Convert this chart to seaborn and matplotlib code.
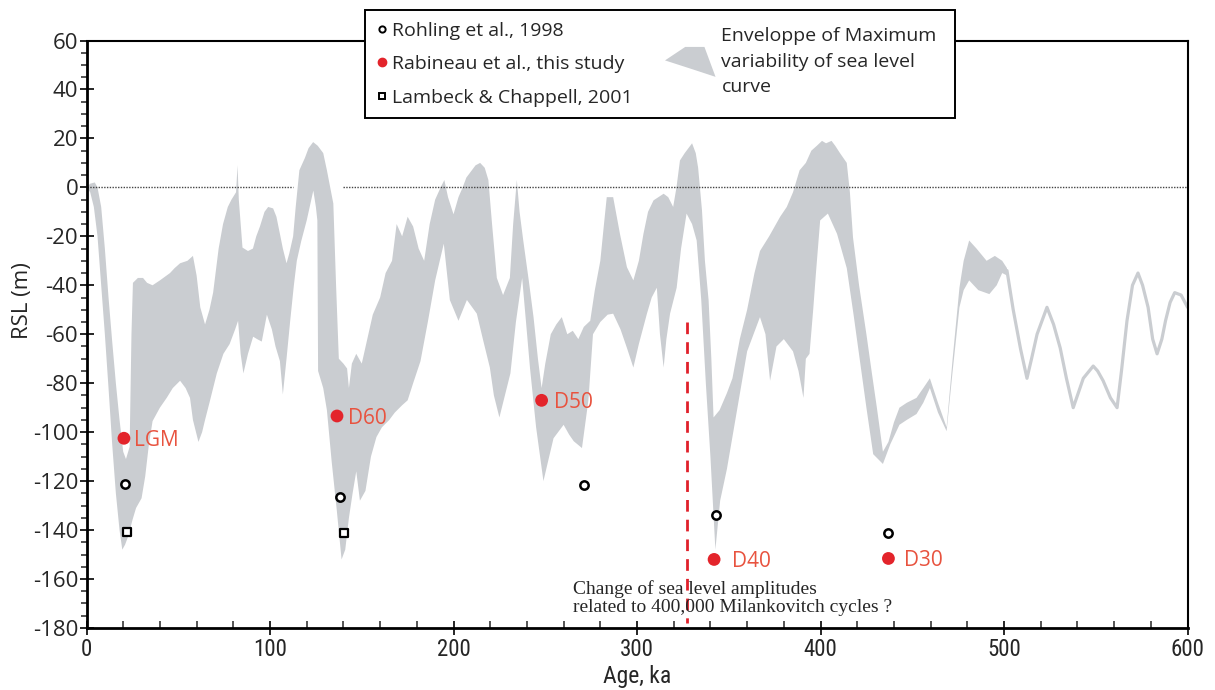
import matplotlib
matplotlib.use("Agg")
import matplotlib.pyplot as plt
from matplotlib import font_manager as fm
from matplotlib.lines import Line2D
from matplotlib.patches import Patch, Polygon
from matplotlib.legend_handler import HandlerPatch
from matplotlib.ticker import MultipleLocator
import seaborn as sns
import pandas as pd

# ---------------- data ----------------
upper_age = [0, 2, 4.5, 6, 8, 10, 12, 14, 16, 18, 20, 21.5, 23.5, 24.5, 25.3, 28, 30.8, 33, 36, 40,
             45.5, 48, 51, 55, 58, 60, 62, 64.6, 67, 69, 72, 74.4, 77, 79, 81.5, 82.3, 83, 85, 88, 90.7,
             92.5, 94.5, 97, 99, 101.7, 103.5, 105.4, 107, 109, 110.5, 112.6, 114, 116, 119, 121, 123.5,
             126, 129, 131, 134.5, 136, 137.5, 140, 142, 143, 144.6, 147, 150, 153, 156, 160, 163, 166.5,
             169, 172, 175, 178, 181, 184, 187, 190, 193, 195, 197, 200, 202.7, 205, 207, 210, 212, 214.5,
             217, 219, 221, 223.6, 227, 230.7, 232.5, 234.5, 236, 238, 241, 243.6, 246, 248, 250, 253, 256,
             259, 262, 265, 268, 271, 274.5, 277, 280, 282, 283.5, 287, 290.7, 294.5, 298, 301, 303.5, 306,
             309, 314.5, 317, 319.7, 321.5, 323.4, 326, 328, 330, 332, 333.3, 335.4, 337, 339, 340.5, 341.7,
             345, 349, 352, 356, 360, 364, 367, 372, 378, 381.6, 385, 388.6, 392, 395, 398, 400.8, 403, 406,
             408, 410.6, 414.3, 416, 417.7, 421, 425, 428, 430.7, 434, 437, 440, 443, 447, 452.3, 456, 459.6,
             464, 468.7, 472, 475.7, 478, 481, 485, 490.5, 495, 499, 501.6]
upper_rsl = [0, 1.5, 2, 0, -8, -25, -45, -63, -80, -95, -108, -111, -106, -60, -39, -37, -37, -39, -40, -38,
             -35, -33, -31, -30, -28, -36, -49, -56, -50, -43, -25, -15, -8, -5, -2, 9, -5, -24.6, -26, -25,
             -20, -16, -10, -8, -8.6, -12, -19, -25, -31, -27, -20, -8, 7, 12, 16, 18.5,
             17, 14, 7, -6.6, -40, -70, -72, -74, -82, -72, -68, -72, -62, -52, -45, -35, -30,
             -15, -20, -12, -16, -25, -30, -15, -5, 0, 3, -4, -11, -4, 0, 4, 7, 9, 10,
             8, 3, -15, -37, -44, -37, -15, 3, -10, -21.7, -38, -53, -70, -82, -72, -60, -56,
             -53, -60, -58.6, -62, -57, -54.5, -42, -30, -15, -4, -4, -19, -32.6, -38, -30, -19, -10,
             -5.3, -2.6, -4, -8, 0, 11, 14, 16, 18, 14, 8, -9.4, -30, -46, -70, -94,
             -91, -84, -78, -62, -50, -35, -26, -20, -12, -8, -2, 7, 10, 15, 17, 19, 18, 19,
             17, 14, 10, -2, -20.5, -40, -60, -76, -90, -108, -104, -96, -90, -88, -86, -82, -78,
             -88, -98, -70, -41, -30, -21.7, -25, -30, -28, -30, -33]

lower_age = [0, 2, 4, 6, 8, 10, 12, 14, 16, 18, 19.5, 21, 23, 25, 27, 30, 32, 34, 36, 40, 43.7, 47, 51,
             54, 56.4, 58, 61, 63, 64.6, 67, 71, 74.6, 78, 81, 82.6, 84, 85.5, 88, 90.8, 93, 95.5, 98.3,
             101, 103, 105.4, 107, 109, 111, 113, 114.6, 117, 120, 123.6, 125, 125.8, 126.2, 129, 131,
             133.6, 136.4, 139, 141, 143, 145, 147, 149, 152, 155, 158, 161, 165, 168, 172, 175, 178, 182,
             186, 190, 194.7, 198, 202.7, 207.3, 212.7, 216, 219.8, 222, 225, 228, 231, 234, 237.4, 239.5,
             241.7, 245, 249, 251.5, 254.5, 257, 260, 263, 265.5, 270, 273.5, 276, 280, 284, 287, 291,
             294.5, 298, 301, 305.4, 308, 310.8, 312.5, 314.5, 316, 318, 321.6, 324, 327, 330, 332.5, 335,
             337.5, 340, 342.7, 345.3, 349, 354.5, 360, 367, 370, 372.5, 376, 380, 385, 388, 390.7, 392,
             394, 396, 397.5, 399.8, 404, 409, 414.3, 418, 421.5, 425, 428.7, 434, 438, 443, 447, 452.3,
             456, 459.6, 464, 468.7, 472, 475.7, 478, 481, 486, 492, 496, 499, 501.6]
lower_rsl = [0, -2, -8, -20, -40, -60, -82, -105, -125, -140, -148, -146, -142, -136, -131, -127, -118,
             -105, -95.5, -90, -86, -82, -79, -82, -86, -95, -104, -100, -95, -88, -76, -68, -64, -58,
             -54.5, -68, -76, -68, -61, -62, -63, -52, -58, -65, -71, -84.6, -70, -54.5, -40, -30, -22,
             -13.5, -1.3, -8, -13.5, -75, -82, -91, -112, -132, -152, -148, -135, -125, -116, -128, -124,
             -110, -102, -98, -95, -92, -89, -87, -80, -71, -55, -38, -23, -46, -54.5, -46, -51.6, -62,
             -73.6, -85, -94, -85, -76, -55, -37, -55, -74, -98, -120, -112, -102.5, -100, -97, -101,
             -103.7, -106.5, -87, -60, -55, -52, -51.6, -58, -65.6, -73.6, -64, -51.6, -45, -41, -60,
             -73.6, -62, -51.6, -41, -25, -10.7, -15, -21.7, -46, -80, -110, -148, -128, -115, -91, -67,
             -53, -60, -79, -65, -62, -67, -75, -86, -70, -68, -50, -35, -13.5, -10.7, -19, -33, -52, -71,
             -90, -109, -113, -105, -97, -95, -92.6, -88, -82, -92, -99.6, -75, -49, -42, -38, -42, -43.6,
             -40, -35, -36]

tail_age = [501.6, 505, 509, 512.5, 515, 518, 523.4, 527, 530.6, 534, 537.7, 540, 543.2, 548.6, 551, 554,
            558, 561.6, 564, 567, 570, 573, 575.5, 578.5, 581, 583.4, 586, 588, 590.5, 593, 596.5, 600]
tail_rsl = [-34, -50, -66, -78, -70, -60, -49, -56, -65.6, -78, -90, -85, -78, -73, -75, -79,
            -86, -90, -75, -54.5, -40, -35, -40, -49, -62, -68, -62, -54.5, -47, -43, -44, -49]

rohling_age = [21, 138, 271, 342.9, 437]
rohling_rsl = [-121, -126.6, -121.7, -134, -141]

rabineau_age = [20.4, 136.5, 248, 342, 437]
rabineau_rsl = [-102.5, -93.4, -87, -152, -151.6]
rabineau_labels = ["LGM", "D60", "D50", "D40", "D30"]

lambeck_age = [21.9, 140.3]
lambeck_rsl = [-140.8, -141]

milankovitch_age = 327
milankovitch_rsl = [-55, -178]

x_ticks = [0, 100, 200, 300, 400, 500, 600]
x_ticklabels = ["0", "100", "200", "300", "400", "500", "600"]

# ---------------- style ----------------
sns.set_style("ticks")
plt.rcParams["font.family"] = ["Open Sans", "DejaVu Sans"]
plt.rcParams["axes.unicode_minus"] = False


def regular_font(cands):
    for c in cands:
        for f in fm.fontManager.ttflist:
            if f.name == c and str(f.weight).lower() in ("400", "normal", "regular", "book") \
                    and f.style == "normal":
                return f.fname
    return None


narrow_file = regular_font(["Liberation Sans Narrow", "Roboto Condensed", "Open Sans Condensed"])


def narrow_fp(size):
    if narrow_file:
        return fm.FontProperties(fname=narrow_file, size=size)
    return fm.FontProperties(family=["Open Sans", "DejaVu Sans"], size=size)


GREY = "#cacdd1"
RED_DOT = "#e3242b"
RED_TXT = "#e8533f"

fig = plt.figure(figsize=(12.15, 6.9), dpi=100)
ax = fig.add_axes([0.0712, 0.0899, 0.9062, 0.8514])

# envelope polygon
env_x = upper_age + lower_age[::-1]
env_y = upper_rsl + lower_rsl[::-1]
ax.fill(env_x, env_y, color=GREY, lw=0, zorder=1)
tail = pd.DataFrame({"age": tail_age, "rsl": tail_rsl})
sns.lineplot(data=tail, x="age", y="rsl", color=GREY, lw=2.3, ax=ax, zorder=1,
             estimator=None, sort=False, solid_capstyle="round")

# zero line (dotted, broken)
ax.plot([0, 112.6], [0, 0], color="#444444", lw=1.0, ls=(0, (1, 1)), zorder=2)
ax.plot([140, 600], [0, 0], color="#444444", lw=1.0, ls=(0, (1, 1)), zorder=2)

# Milankovitch dashed line
ax.plot([milankovitch_age, milankovitch_age], milankovitch_rsl, color="#e0202a", lw=2.0,
        ls=(0, (4.2, 2.9)), zorder=3)

# points
sns.scatterplot(x=rohling_age, y=rohling_rsl, marker="o", s=36, facecolors="white",
                edgecolor="black", linewidth=1.8, ax=ax, zorder=5)
sns.scatterplot(x=lambeck_age, y=lambeck_rsl, marker="s", s=36, facecolors="white",
                edgecolor="black", linewidth=1.6, ax=ax, zorder=5)
sns.scatterplot(x=rabineau_age, y=rabineau_rsl, marker="o", s=85, color=RED_DOT,
                edgecolor="none", ax=ax, zorder=5)
label_offsets = [7, 8, 9, 13, 11]
for a, r, t, o in zip(rabineau_age, rabineau_rsl, rabineau_labels, label_offsets):
    ax.annotate(t, (a, r), xytext=(o, 0), textcoords="offset points", color=RED_TXT,
                fontsize=15, va="center_baseline", ha="left", zorder=6)

ax.text(265, -167.8, "Change of sea level amplitudes\nrelated to 400,000 Milankovitch cycles ?",
        family=["Liberation Serif", "DejaVu Serif"], fontsize=14, va="center", ha="left",
        linespacing=1.1, zorder=6)

# axes
ax.set_xlim(0, 600)
ax.set_ylim(-180, 60)
ax.set_xticks(x_ticks)
ax.set_xticklabels(x_ticklabels, fontproperties=narrow_fp(16.5))
ax.xaxis.set_minor_locator(MultipleLocator(20))
ax.yaxis.set_major_locator(MultipleLocator(20))
ax.yaxis.set_minor_locator(MultipleLocator(5))
ax.tick_params(axis="y", which="major", direction="inout", length=10, width=1.4, labelsize=16, pad=1)
ax.tick_params(axis="y", which="minor", direction="out", length=4, width=1.1)
ax.tick_params(axis="x", which="major", direction="inout", length=10, width=1.4, pad=2)
ax.tick_params(axis="x", which="minor", direction="in", length=5, width=1.1)
ax.set_xlabel("Age, ka", fontproperties=narrow_fp(17), labelpad=3)
ax.set_ylabel("RSL (m)", fontsize=16)
ax.yaxis.set_label_coords(-0.049, 0.558)
for s in ["left", "bottom"]:
    ax.spines[s].set_linewidth(2.0)
for s in ["top", "right"]:
    ax.spines[s].set_linewidth(1.5)
for s in ax.spines.values():
    s.set_color("black")


# legend
def env_patch(legend, orig_handle, xdescent, ydescent, width, height, fontsize):
    w = width
    h = height * 2.2
    y0 = -ydescent + height / 2 - h / 2
    x0 = -xdescent
    pts = [(x0, y0 + 0.55 * h), (x0 + 0.4 * w, y0 + h), (x0 + 0.78 * w, y0 + h),
           (x0 + w, y0), (x0 + 0.55 * w, y0 + 0.25 * h)]
    return Polygon(pts, closed=True)


h_roh = Line2D([], [], marker="o", ls="none", markersize=4.5, markerfacecolor="white",
               markeredgecolor="black", markeredgewidth=1.4)
h_rab = Line2D([], [], marker="o", ls="none", markersize=6, markerfacecolor=RED_DOT,
               markeredgecolor=RED_DOT)
h_lam = Line2D([], [], marker="s", ls="none", markersize=4.5, markerfacecolor="white",
               markeredgecolor="black", markeredgewidth=1.4)
h_env = Patch(facecolor=GREY, edgecolor="none")

leg1 = fig.legend(handles=[h_roh, h_rab, h_lam],
                  labels=["Rohling et al., 1998", "Rabineau et al., this study", "Lambeck & Chappell, 2001"],
                  loc="upper left", bbox_to_anchor=(365 / 1215, 1 - 10 / 690, 590 / 1215, 0.0),
                  mode="expand", frameon=True, fancybox=False, framealpha=1, edgecolor="black",
                  fontsize=14, handlelength=0.5, handletextpad=0.3, labelspacing=0.8,
                  borderpad=0.6, borderaxespad=0)
leg1.get_frame().set_linewidth(1.4)
leg2 = fig.legend(handles=[h_env], labels=["Enveloppe of Maximum\nvariability of sea level\ncurve"],
                  loc="upper left", bbox_to_anchor=(665 / 1215, 1 - 27 / 690), frameon=False,
                  fontsize=14, handlelength=2.6, handletextpad=0.3, borderpad=0, borderaxespad=0,
                  handler_map={Patch: HandlerPatch(patch_func=env_patch)})
leg2.get_texts()[0].set_linespacing(1.55)

fig.savefig("out.png", dpi=100, facecolor="white")
